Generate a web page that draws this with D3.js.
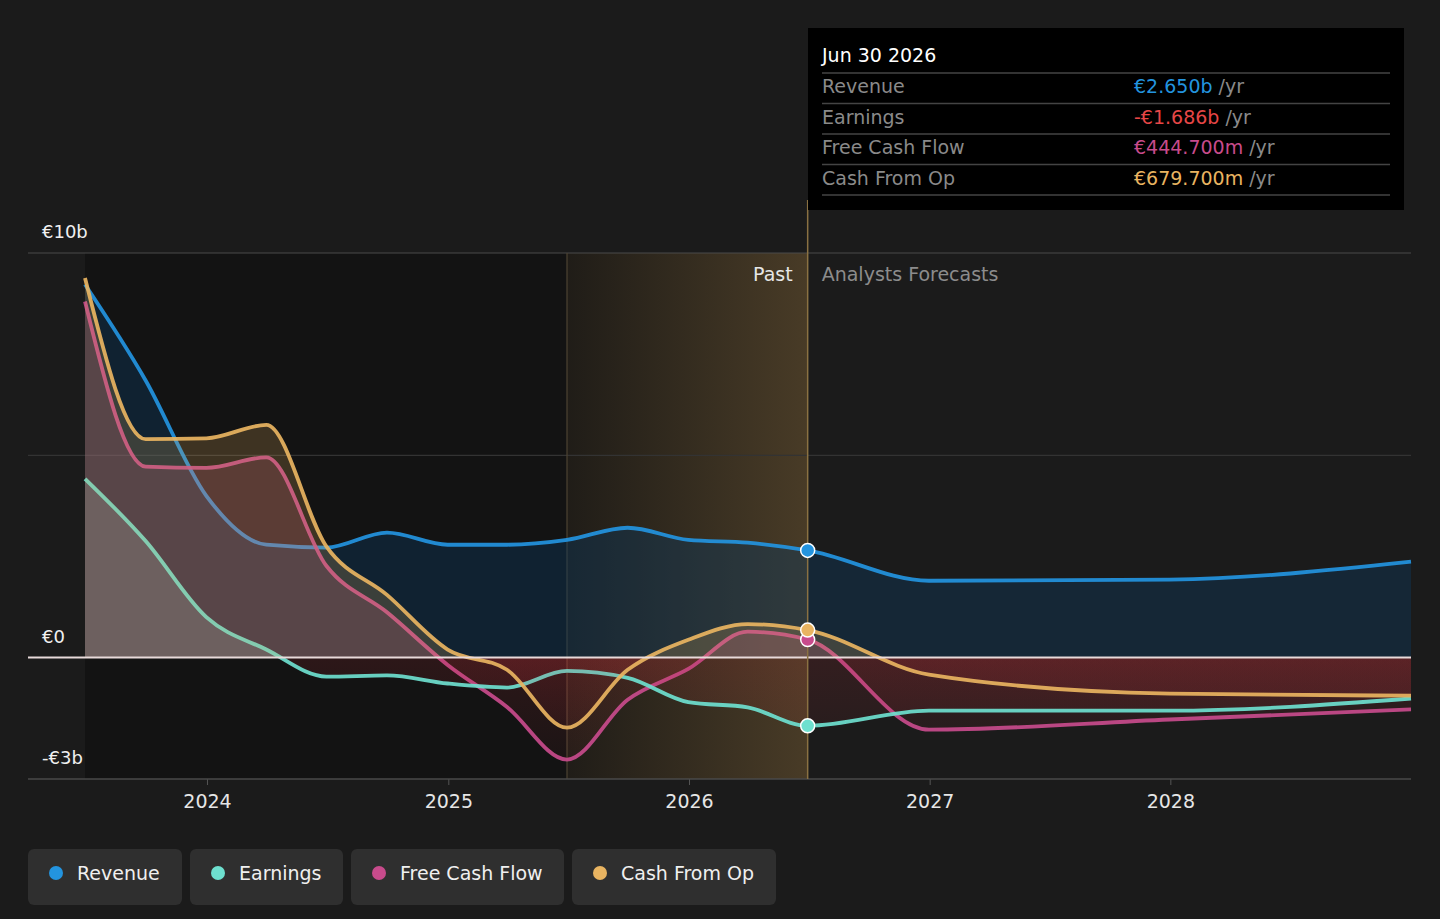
<!DOCTYPE html>
<html>
<head>
<meta charset="utf-8">
<script src="https://cdn.jsdelivr.net/npm/d3@7"></script>
<style>
  html, body { margin: 0; padding: 0; background: #1b1b1b; }
  svg { display: block; font-family: "DejaVu Sans", sans-serif; }
</style>
</head>
<body>
<div id="chart"></div>
<script>
// values in billions of euro, one per date
var dates = ["2023-06-30","2023-09-30","2023-12-31","2024-03-31","2024-06-30","2024-09-30","2024-12-31","2025-03-31",
             "2025-06-30","2025-09-30","2025-12-31","2026-03-31","2026-06-30","2026-12-31","2027-12-31","2028-12-31"];
var revenue      = [9.22, 6.85, 4.0, 2.79, 2.72, 3.09, 2.79, 2.79, 2.91, 3.21, 2.91, 2.84, 2.650, 1.90, 1.93, 2.37];
var earnings     = [4.42, 2.88, 1.0, 0.2, -0.47, -0.44, -0.64, -0.74, -0.33, -0.5, -1.1, -1.23, -1.686, -1.31, -1.31, -1.01];
var freeCashFlow = [8.8, 4.72, 4.69, 4.95, 2.27, 1.12, -0.18, -1.22, -2.52, -1.04, -0.28, 0.64, 0.4447, -1.78, -1.53, -1.28];
var cashFromOp   = [9.38, 5.4, 5.42, 5.75, 2.75, 1.55, 0.2, -0.3, -1.73, -0.3, 0.44, 0.83, 0.6797, -0.42, -0.89, -0.94];

var seriesNames  = ["Revenue", "Earnings", "Free Cash Flow", "Cash From Op"];
var seriesColors = ["#2394df", "#6ee0cf", "#c84b8c", "#e9b461"];
var areaColors   = ["#0d3a60", "#b8d8d2", "#c84b8c", "#e9b461"];
var drawOrder    = [0, 2, 1, 3];
var yTicks       = [10, 0, -3];
var yTickLabels  = ["€10b", "€0", "-€3b"];
var xTickYears   = [2024, 2025, 2026, 2027, 2028];

var tipDate   = "Jun 30 2026";
var tipValues = ["€2.650b", "-€1.686b", "€444.700m", "€679.700m"];
var tipColors = ["#2394df", "#e64646", "#c84b8c", "#e9b461"];

var W = 1440, H = 919;
var plotL = 28, plotR = 1411, plotT = 253, plotB = 779;

var parse = d3.timeParse("%Y-%m-%d");
var dateVals = dates.map(parse);
var pastStart = parse("2025-06-30"), pastEnd = parse("2026-06-30");

var x = d3.scaleTime()
  .domain([dateVals[0], dateVals[dateVals.length - 1]])
  .range([85, plotR]);
var y = d3.scaleLinear().domain([-3, 10]).range([plotB, plotT]);

var svg = d3.select("#chart").append("svg")
  .attr("width", W)
  .attr("height", H);
var defs = svg.append("defs");

svg.append("rect").attr("width", W).attr("height", H).attr("fill", "#1b1b1b");

// past region backgrounds
svg.append("rect")
  .attr("x", x(dateVals[0])).attr("y", plotT)
  .attr("width", x(pastEnd) - x(dateVals[0])).attr("height", plotB - plotT)
  .attr("fill", "#131313");

var hg = defs.append("linearGradient").attr("id", "hl").attr("x1", "0").attr("x2", "1").attr("y1", "0").attr("y2", "0");
hg.append("stop").attr("offset", "0").attr("stop-color", "#e9b461").attr("stop-opacity", 0.06);
hg.append("stop").attr("offset", "1").attr("stop-color", "#e9b461").attr("stop-opacity", 0.25);
svg.append("rect")
  .attr("x", x(pastStart)).attr("y", plotT)
  .attr("width", x(pastEnd) - x(pastStart)).attr("height", plotB - plotT)
  .attr("fill", "url(#hl)");

// grid
svg.selectAll(".grid").data([10, 5]).enter().append("line")
  .attr("x1", plotL).attr("x2", plotR)
  .attr("y1", function (d) { return y(d); }).attr("y2", function (d) { return y(d); })
  .attr("stroke", function (d) { return d == 10 ? "#4a4a4a" : "#333"; })
  .attr("stroke-width", 1.2);

svg.append("line")
  .attr("x1", x(pastStart)).attr("x2", x(pastStart))
  .attr("y1", plotT).attr("y2", plotB)
  .attr("stroke", "#4d4432").attr("stroke-width", 1.2);

// clip paths for the part above and below zero
defs.append("clipPath").attr("id", "clipPos").append("rect")
  .attr("x", 0).attr("y", 0).attr("width", W).attr("height", y(0));
defs.append("clipPath").attr("id", "clipNeg").append("rect")
  .attr("x", 0).attr("y", y(0)).attr("width", W).attr("height", H);

var ng = defs.append("linearGradient").attr("id", "neg").attr("gradientUnits", "userSpaceOnUse")
  .attr("x1", 0).attr("x2", 0).attr("y1", y(0)).attr("y2", y(-3));
ng.append("stop").attr("offset", "0").attr("stop-color", "#d8323c").attr("stop-opacity", 0.13);
ng.append("stop").attr("offset", "1").attr("stop-color", "#d8323c").attr("stop-opacity", 0.03);

var allSeries = [revenue, earnings, freeCashFlow, cashFromOp];

var area = d3.area()
  .x(function (d, i) { return x(dateVals[i]); })
  .y0(y(0))
  .y1(function (d) { return y(d); })
  .curve(d3.curveMonotoneX);
var line = d3.line()
  .x(function (d, i) { return x(dateVals[i]); })
  .y(function (d) { return y(d); })
  .curve(d3.curveMonotoneX);

// each series: area then its line
drawOrder.forEach(function (k) {
  var s = allSeries[k];
  svg.append("path").attr("d", area(s))
    .attr("clip-path", "url(#clipPos)")
    .attr("fill", areaColors[k])
    .attr("fill-opacity", k == 0 ? 0.4 : 0.2);
  svg.append("path").attr("d", area(s))
    .attr("clip-path", "url(#clipNeg)")
    .attr("fill", "url(#neg)");
  svg.append("path").attr("d", line(s))
    .attr("fill", "none")
    .attr("stroke", seriesColors[k])
    .attr("stroke-opacity", 0.92)
    .attr("stroke-width", 3.8)
    .attr("stroke-linejoin", "round");
});

// zero line
svg.append("line")
  .attr("x1", plotL).attr("x2", plotR)
  .attr("y1", y(0)).attr("y2", y(0))
  .attr("stroke", "#e8dada").attr("stroke-width", 2);

// bottom axis
var xAxis = d3.axisBottom(x)
  .tickValues(xTickYears.map(function (yr) { return new Date(yr, 0, 1); }))
  .tickFormat(d3.timeFormat("%Y"))
  .tickSize(6)
  .tickPadding(10);
var ax = svg.append("g").attr("transform", "translate(0," + plotB + ")").call(xAxis);
ax.select(".domain").remove();
ax.selectAll(".tick line").attr("stroke", "#555");
ax.selectAll(".tick text").attr("fill", "#e6e6e6").attr("font-size", 19)
  .attr("font-family", "DejaVu Sans, sans-serif");
svg.append("line")
  .attr("x1", plotL).attr("x2", plotR).attr("y1", plotB).attr("y2", plotB)
  .attr("stroke", "#4a4a4a").attr("stroke-width", 1.5);

// y labels
svg.selectAll(".ylab").data(yTicks).enter().append("text")
  .attr("x", 42)
  .attr("y", function (d) { return y(d) - 15; })
  .attr("fill", "#f0f0f0")
  .attr("font-size", 18)
  .text(function (d, i) { return yTickLabels[i]; });

// past / forecast labels
svg.append("text").attr("x", x(pastEnd) - 15).attr("y", 281)
  .attr("text-anchor", "end").attr("fill", "#e6e6e6").attr("font-size", 19).text("Past");
svg.append("text").attr("x", x(pastEnd) + 14).attr("y", 281)
  .attr("fill", "#8c8c8c").attr("font-size", 19).text("Analysts Forecasts");

// marker line at hovered date
svg.append("line")
  .attr("x1", x(pastEnd)).attr("x2", x(pastEnd))
  .attr("y1", 200).attr("y2", plotB)
  .attr("stroke", "#8a7142").attr("stroke-width", 1.5);

// tooltip
var tip = svg.append("g");
tip.append("rect").attr("x", 808).attr("y", 28).attr("width", 596).attr("height", 182).attr("fill", "#000");
tip.append("text").attr("x", 822).attr("y", 62).attr("fill", "#fff").attr("font-size", 19).text(tipDate);
seriesNames.forEach(function (n, k) {
  var ry = 73 + k * 30.5;
  tip.append("line").attr("x1", 822).attr("x2", 1390).attr("y1", ry).attr("y2", ry)
    .attr("stroke", "#444").attr("stroke-width", 1.5);
  tip.append("text").attr("x", 822).attr("y", ry + 20).attr("fill", "#8a8a8a").attr("font-size", 19).text(n);
  var t = tip.append("text").attr("x", 1134).attr("y", ry + 20).attr("font-size", 19);
  t.append("tspan").attr("fill", tipColors[k]).text(tipValues[k]);
  t.append("tspan").attr("fill", "#8a8a8a").text(" /yr");
});
tip.append("line").attr("x1", 822).attr("x2", 1390).attr("y1", 195).attr("y2", 195)
  .attr("stroke", "#444").attr("stroke-width", 1.5);

// hover dots
var lastIdx = dates.indexOf("2026-06-30");
svg.selectAll(".dot").data(allSeries).enter().append("circle")
  .attr("cx", x(pastEnd))
  .attr("cy", function (s) { return y(s[lastIdx]); })
  .attr("r", 7)
  .attr("fill", function (s, k) { return seriesColors[k]; })
  .attr("stroke", "#fff")
  .attr("stroke-width", 1.5);

// legend
var legendX = [28, 190, 351, 572], legendW = [154, 153, 213, 204];
var lg = svg.selectAll(".leg").data(seriesNames).enter().append("g")
  .attr("transform", function (d, i) { return "translate(" + legendX[i] + ",849)"; });
lg.append("rect").attr("width", function (d, i) { return legendW[i]; }).attr("height", 56)
  .attr("rx", 6).attr("fill", "#2f2f2f");
lg.append("circle").attr("cx", 28).attr("cy", 24).attr("r", 7)
  .attr("fill", function (d, i) { return seriesColors[i]; });
lg.append("text").attr("x", 49).attr("y", 31).attr("fill", "#f0f0f0").attr("font-size", 19)
  .text(function (d) { return d; });
</script>
</body>
</html>
